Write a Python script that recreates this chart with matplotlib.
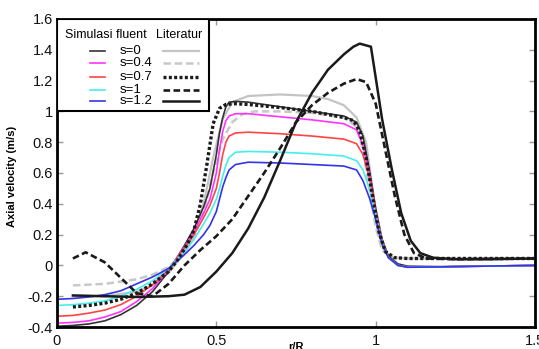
import matplotlib
matplotlib.use('Agg')
import matplotlib.pyplot as plt
from matplotlib.patches import Rectangle

plt.rcParams['font.family'] = ['Liberation Sans', 'DejaVu Sans']

# simulation (fluent) results, shared r/R grid
sim_x = [0, 0.05, 0.1, 0.15, 0.2, 0.25, 0.3, 0.35, 0.4, 0.43, 0.46, 0.48, 0.5, 0.51,
         0.52, 0.53, 0.54, 0.56, 0.6, 0.7, 0.8, 0.9, 0.94, 0.96, 0.98, 1.0, 1.02,
         1.04, 1.07, 1.1, 1.2, 1.3, 1.4, 1.5]
sim_s0 = [-0.395, -0.39, -0.38, -0.36, -0.32, -0.26, -0.17, -0.04, 0.13, 0.24, 0.38, 0.5,
          0.72, 0.86, 0.96, 1.03, 1.06, 1.065, 1.06, 1.03, 1.0, 0.97, 0.93, 0.84, 0.62,
          0.37, 0.17, 0.06, 0.01, -0.005, -0.008, -0.005, -0.003, 0.0]
sim_s04 = [-0.375, -0.37, -0.36, -0.335, -0.3, -0.235, -0.15, -0.03, 0.12, 0.22, 0.34,
           0.43, 0.6, 0.75, 0.87, 0.94, 0.97, 0.985, 0.985, 0.965, 0.945, 0.92, 0.88,
           0.78, 0.6, 0.36, 0.16, 0.05, 0.0, -0.01, -0.01, -0.006, -0.003, 0.0]
sim_s07 = [-0.33, -0.325, -0.31, -0.29, -0.255, -0.2, -0.125, -0.025, 0.11, 0.2, 0.31,
           0.39, 0.5, 0.6, 0.72, 0.8, 0.84, 0.86, 0.865, 0.855, 0.84, 0.82, 0.79, 0.72,
           0.57, 0.35, 0.16, 0.05, 0.0, -0.01, -0.01, -0.006, -0.003, 0.0]
sim_s1 = [-0.26, -0.255, -0.245, -0.23, -0.2, -0.155, -0.1, -0.02, 0.09, 0.17, 0.27,
          0.34, 0.43, 0.5, 0.58, 0.65, 0.7, 0.735, 0.74, 0.735, 0.725, 0.71, 0.68, 0.62,
          0.5, 0.33, 0.15, 0.05, 0.0, -0.012, -0.01, -0.006, -0.003, 0.0]
sim_s12 = [-0.22, -0.215, -0.205, -0.19, -0.165, -0.12, -0.075, -0.02, 0.07, 0.13, 0.2,
           0.26, 0.35, 0.43, 0.51, 0.57, 0.62, 0.655, 0.67, 0.665, 0.655, 0.645, 0.62,
           0.55, 0.44, 0.3, 0.14, 0.05, 0.0, -0.012, -0.01, -0.006, -0.003, 0.0]

# literature results
lit0_x = [0.05, 0.15, 0.25, 0.3, 0.35, 0.4, 0.43, 0.46, 0.49, 0.52, 0.55, 0.6, 0.7, 0.8,
          0.85, 0.9, 0.94, 0.97, 0.99, 1.01, 1.03, 1.06, 1.1, 1.5]
lit0_y = [-0.2, -0.2, -0.17, -0.13, -0.05, 0.08, 0.2, 0.4, 0.7, 0.95, 1.06, 1.1, 1.11,
          1.1, 1.08, 1.04, 0.96, 0.8, 0.5, 0.2, 0.08, 0.05, 0.045, 0.045]
lit04_x = [0.05, 0.15, 0.25, 0.3, 0.35, 0.4, 0.43, 0.46, 0.49, 0.52, 0.55, 0.58, 0.62, 0.7,
           0.8, 0.9, 0.94, 0.96, 0.98, 1.0, 1.02, 1.05, 1.1, 1.5]
lit04_y = [-0.13, -0.12, -0.09, -0.06, -0.01, 0.08, 0.18, 0.35, 0.6, 0.82, 0.93, 0.98,
           1.0, 1.0, 0.99, 0.96, 0.9, 0.75, 0.5, 0.25, 0.1, 0.05, 0.045, 0.045]
lit07_x = [0.05, 0.1, 0.15, 0.2, 0.25, 0.3, 0.35, 0.38, 0.41, 0.43, 0.45, 0.47, 0.49, 0.51,
           0.53, 0.56, 0.6, 0.7, 0.8, 0.9, 0.93, 0.95, 0.97, 0.99, 1.01, 1.03, 1.06, 1.1,
           1.2, 1.5]
lit07_y = [-0.27, -0.26, -0.245, -0.22, -0.18, -0.12, -0.04, 0.04, 0.14, 0.23, 0.4, 0.65,
           0.92, 1.02, 1.045, 1.05, 1.045, 1.025, 1.0, 0.96, 0.94, 0.87, 0.7, 0.45, 0.22,
           0.09, 0.05, 0.045, 0.045, 0.045]
lit1_x = [0.05, 0.09, 0.15, 0.2, 0.25, 0.3, 0.35, 0.4, 0.45, 0.5, 0.55, 0.6, 0.65, 0.7,
          0.75, 0.8, 0.85, 0.9, 0.94, 0.97, 1.0, 1.03, 1.06, 1.09, 1.12, 1.16, 1.25, 1.5]
lit1_y = [0.045, 0.085, 0.02, -0.08, -0.18, -0.2, -0.12, 0.0, 0.1, 0.19, 0.3, 0.45, 0.6,
          0.76, 0.93, 1.04, 1.12, 1.18, 1.21, 1.19, 1.05, 0.75, 0.45, 0.2, 0.08, 0.045,
          0.04, 0.045]
lit12_x = [0.05, 0.15, 0.25, 0.35, 0.4, 0.45, 0.5, 0.55, 0.6, 0.65, 0.7, 0.75, 0.8, 0.85,
           0.9, 0.93, 0.95, 0.985, 1.0, 1.02, 1.05, 1.08, 1.11, 1.14, 1.18, 1.25, 1.35, 1.5]
lit12_y = [-0.195, -0.2, -0.205, -0.2, -0.19, -0.14, -0.04, 0.08, 0.24, 0.44, 0.68, 0.93,
           1.12, 1.27, 1.37, 1.42, 1.44, 1.42, 1.22, 0.95, 0.63, 0.34, 0.16, 0.08, 0.05,
           0.04, 0.04, 0.045]

labels = ['s=0', 's=0.4', 's=0.7', 's=1', 's=1.2']
sim_colors = ['#333333', '#ff33ff', '#ff4444', '#44eeee', '#3333ee']
lit_styles = [dict(color='#c4c4c4', lw=1.6, ls='-'),
              dict(color='#c8c8c8', lw=1.8, ls=(0, (3, 1.5))),
              dict(color='#1a1a1a', lw=2.4, ls=(0, (0.9, 0.7))),
              dict(color='#1a1a1a', lw=1.9, ls=(0, (2.5, 1.3))),
              dict(color='#1a1a1a', lw=1.8, ls='-')]

fig = plt.figure(figsize=(5.39, 3.49), dpi=100)
ax = fig.add_axes([0.1057, 0.063, 0.887, 0.8826])

lit_data = [(lit0_x, lit0_y), (lit04_x, lit04_y), (lit07_x, lit07_y),
            (lit1_x, lit1_y), (lit12_x, lit12_y)]
sim_data = [sim_s0, sim_s04, sim_s07, sim_s1, sim_s12]

for (lx, ly), st in zip(lit_data[:2], lit_styles[:2]):
    ax.plot(lx, ly, zorder=1, **st)
for sy, c in zip(sim_data, sim_colors):
    ax.plot(sim_x, sy, color=c, lw=1.2, zorder=2)
for (lx, ly), st in zip(lit_data[2:], lit_styles[2:]):
    ax.plot(lx, ly, zorder=3, **st)

ax.set_xlim(0, 1.5)
ax.set_ylim(-0.4, 1.6)
ax.set_xticks([0, 0.5, 1, 1.5])
ax.set_xticklabels(['0', '0.5', '1', '1.5'])
ax.set_yticks([-0.4, -0.2, 0, 0.2, 0.4, 0.6, 0.8, 1, 1.2, 1.4, 1.6])
ax.set_yticklabels(['-0.4', '-0.2', '0', '0.2', '0.4', '0.6', '0.8', '1', '1.2', '1.4', '1.6'])
ax.tick_params(direction='in', length=4, width=1, color='#999999', labelsize=10.5,
               top=True, right=True, labelcolor='#111111')
ax.tick_params(axis='y', pad=3)
ax.tick_params(axis='x', pad=5)
for sp in ax.spines.values():
    sp.set_linewidth(2)
    sp.set_color('black')

ax.set_ylabel('Axial velocity (m/s)', fontsize=8, fontweight='bold')
ax.yaxis.set_label_coords(-0.083, 0.49)
ax.set_xlabel('r/R', fontsize=8, fontweight='bold')
ax.xaxis.set_label_coords(0.5, -0.05)

# hand-made legend box in the top-left corner
ax.add_patch(Rectangle((0, 0.701), 0.318, 0.299, transform=ax.transAxes,
                       facecolor='white', edgecolor='black', lw=1.5, zorder=5))
ax.text(0.017, 0.948, 'Simulasi fluent', transform=ax.transAxes, fontsize=9,
        va='center', ha='left', zorder=6)
ax.text(0.207, 0.948, 'Literatur', transform=ax.transAxes, fontsize=9,
        va='center', ha='left', zorder=6)
rows = [0.895, 0.856, 0.812, 0.771, 0.734]
for yy, lab, c, st in zip(rows, labels, sim_colors, lit_styles):
    ax.plot([0.069, 0.100], [yy, yy], transform=ax.transAxes, color=c, lw=1.2, zorder=6)
    ax.text(0.132, yy, lab, transform=ax.transAxes, fontsize=9.5, va='center',
            ha='left', zorder=6)
    ax.plot([0.222, 0.297], [yy, yy], transform=ax.transAxes, zorder=6, **st)

fig.savefig('out.png', dpi=100)
